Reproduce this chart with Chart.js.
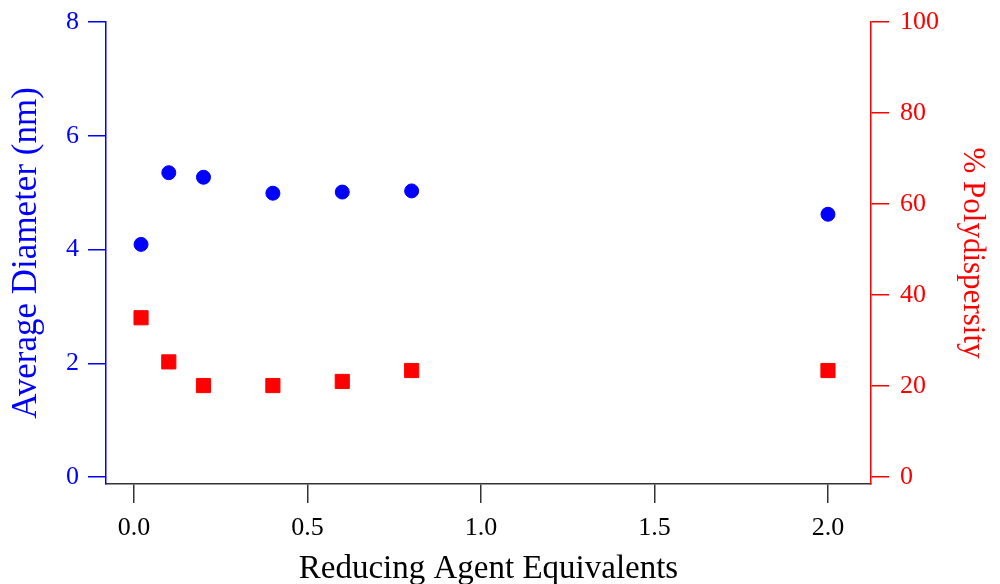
<!DOCTYPE html>
<html>
<head>
<meta charset="utf-8">
<script src="https://cdn.jsdelivr.net/npm/chart.js@4"></script>
<style>
  html, body { margin: 0; padding: 0; background: #fff; }
  canvas { display: block; }
</style>
</head>
<body>
<canvas id="c" width="1000" height="584"></canvas>
<script>
// Data
const equivalents = [0.02, 0.1, 0.2, 0.4, 0.6, 0.8, 2.0];
const avgDiameter = [4.09, 5.35, 5.27, 4.99, 5.01, 5.03, 4.62];
const polydispersity = [35.0, 25.3, 20.1, 20.1, 21.0, 23.4, 23.4];

const xTickValues = [0, 0.5, 1.0, 1.5, 2.0];
const leftTickValues = [0, 2, 4, 6, 8];
const rightTickValues = [0, 20, 40, 60, 80, 100];

const xTitle = 'Reducing Agent Equivalents';
const leftTitle = 'Average Diameter (nm)';
const rightTitle = '% Polydispersity';

const BLUE = '#0000ff';
const RED = '#ff0000';
const DARK = '#333333';
const FONT = "'Liberation Serif', 'Times New Roman', serif";

const diameterPoints = equivalents.map((x, i) => ({ x: x, y: avgDiameter[i] }));
const polyPoints = equivalents.map((x, i) => ({ x: x, y: polydispersity[i] }));

function setTicks(values) {
  return function (scale) { scale.ticks = values.map(v => ({ value: v })); };
}
function fixWidth(w) {
  return function (s) { s.width = w; s.paddingTop = 0; s.paddingBottom = 0; };
}

new Chart(document.getElementById('c'), {
  type: 'scatter',
  data: {
    datasets: [
      {
        label: leftTitle,
        data: diameterPoints,
        yAxisID: 'y',
        pointStyle: 'circle',
        pointRadius: 7,
        pointBorderWidth: 1,
        backgroundColor: BLUE,
        borderColor: BLUE,
        showLine: false
      },
      {
        label: rightTitle,
        data: polyPoints,
        yAxisID: 'y1',
        pointStyle: 'rect',
        pointRadius: 10,
        pointBorderWidth: 1,
        backgroundColor: RED,
        borderColor: RED,
        showLine: false
      }
    ]
  },
  options: {
    responsive: false,
    animation: false,
    layout: { padding: { top: 22, left: 0, right: 0, bottom: 0 } },
    plugins: { legend: { display: false }, tooltip: { enabled: false } },
    scales: {
      x: {
        type: 'linear',
        position: 'bottom',
        min: -0.081,
        max: 2.124,
        afterBuildTicks: setTicks(xTickValues),
        afterFit: function (s) { s.height = 100; s.paddingLeft = 0; s.paddingRight = 0; },
        border: { display: true, color: DARK, width: 1.5 },
        grid: { drawOnChartArea: false, drawTicks: true, tickLength: 19, tickColor: DARK, lineWidth: 1.5 },
        ticks: {
          color: '#000',
          font: { family: FONT, size: 26 },
          padding: 10,
          maxRotation: 0,
          callback: v => Number(v).toFixed(1)
        },
        title: {
          display: true,
          text: xTitle,
          color: '#000',
          font: { family: FONT, size: 33, lineHeight: 1.0 },
          padding: { top: 0, bottom: -2 }
        }
      },
      y: {
        type: 'linear',
        position: 'left',
        min: -0.123,
        max: 8,
        afterBuildTicks: setTicks(leftTickValues),
        afterFit: fixWidth(106),
        border: { display: true, color: BLUE, width: 1.5 },
        grid: { drawOnChartArea: false, drawTicks: true, tickLength: 18, tickColor: BLUE, lineWidth: 1.5 },
        ticks: {
          color: BLUE,
          font: { family: FONT, size: 26 },
          padding: 9,
          callback: v => String(v)
        },
        title: {
          display: true,
          text: leftTitle,
          color: BLUE,
          font: { family: FONT, size: 35, lineHeight: 1.0 },
          padding: { top: 9, bottom: 0 }
        }
      },
      y1: {
        type: 'linear',
        position: 'right',
        min: -1.54,
        max: 100,
        afterBuildTicks: setTicks(rightTickValues),
        afterFit: fixWidth(129),
        border: { display: true, color: RED, width: 1.5 },
        grid: { drawOnChartArea: false, drawTicks: true, tickLength: 18, tickColor: RED, lineWidth: 1.5 },
        ticks: {
          color: RED,
          font: { family: FONT, size: 26 },
          padding: 11,
          callback: v => String(v)
        },
        title: {
          display: true,
          text: rightTitle,
          color: RED,
          font: { family: FONT, size: 31, lineHeight: 1.0 },
          padding: { top: 12, bottom: 0 }
        }
      }
    }
  }
});
</script>
</body>
</html>
